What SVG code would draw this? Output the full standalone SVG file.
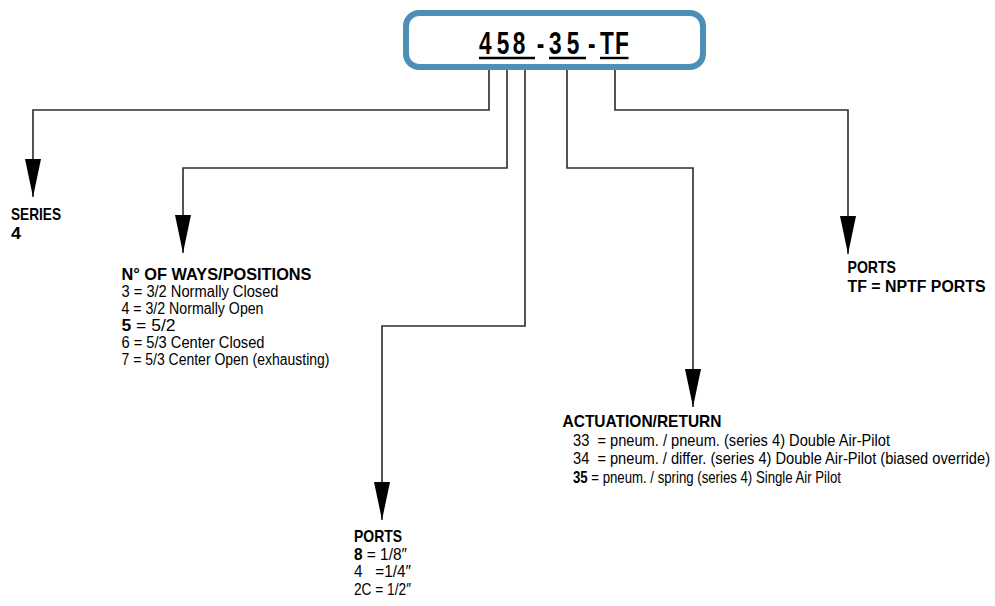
<svg xmlns="http://www.w3.org/2000/svg" width="995" height="606" viewBox="0 0 995 606">
<style>
.t{font-family:"Liberation Sans",Arial,sans-serif;fill:#000;}
.h{font-weight:bold;font-size:17px;}
.r{font-size:16px;}
.b{font-weight:bold;}
.c{fill:none;stroke:#2b2b2b;stroke-width:1.6;}
</style>
<defs>
<marker id="ah" viewBox="0 0 38 16" refX="38" refY="8" markerWidth="38" markerHeight="16" markerUnits="userSpaceOnUse" orient="auto">
<path d="M0,0 L38,8 L0,16 z" fill="#000"/>
</marker>
</defs>
<g id="code">
<rect x="406" y="13" width="297" height="54" rx="13" ry="13" fill="#fff" stroke="#4e8fb5" stroke-width="6"/>
<text transform="scale(0.72,1)" x="665.3 689.9 712.1 745.4 762.5 787.1 816.7 833.3 854.2" y="54.3" font-family="Liberation Sans, Arial, sans-serif" font-weight="bold" font-size="31.5">458-35-TF</text>
<g stroke="#000" stroke-width="2.4">
<line x1="479" y1="58" x2="535" y2="58"/>
<line x1="549" y1="58" x2="586" y2="58"/>
<line x1="600" y1="58" x2="628.5" y2="58"/>
</g>
</g>
<g id="connectors">
<path class="c" d="M489,70 V110 H33 V197" marker-end="url(#ah)"/>
<path class="c" d="M507,70 V168 H183 V253" marker-end="url(#ah)"/>
<path class="c" d="M525,70 V326 H382 V520" marker-end="url(#ah)"/>
<path class="c" d="M567,70 V168 H693 V407" marker-end="url(#ah)"/>
<path class="c" d="M615,70 V110 H848 V254" marker-end="url(#ah)"/>
</g>
<g id="series">
<text class="t h" x="11" y="220" textLength="50" lengthAdjust="spacingAndGlyphs">SERIES</text>
<text class="t h" x="11" y="239" textLength="10" lengthAdjust="spacingAndGlyphs">4</text>
</g>
<g id="ways">
<text class="t h" x="121.5" y="280" textLength="190" lengthAdjust="spacingAndGlyphs">N° OF WAYS/POSITIONS</text>
<text class="t r" x="121.5" y="297" textLength="157" lengthAdjust="spacingAndGlyphs">3 = 3/2 Normally Closed</text>
<text class="t r" x="121.5" y="314" textLength="142" lengthAdjust="spacingAndGlyphs">4 = 3/2 Normally Open</text>
<text class="t r" x="121.5" y="331" textLength="54" lengthAdjust="spacingAndGlyphs"><tspan class="b">5</tspan> = 5/2</text>
<text class="t r" x="121.5" y="348" textLength="143" lengthAdjust="spacingAndGlyphs">6 = 5/3 Center Closed</text>
<text class="t r" x="121.5" y="365" textLength="208" lengthAdjust="spacingAndGlyphs">7 = 5/3 Center Open (exhausting)</text>
</g>
<g id="ports-size">
<text class="t h" x="354" y="542" textLength="48" lengthAdjust="spacingAndGlyphs">PORTS</text>
<text class="t r" x="354" y="559.5" textLength="53" lengthAdjust="spacingAndGlyphs"><tspan class="b">8</tspan> = 1/8″</text>
<text class="t r" x="354" y="577" textLength="57" lengthAdjust="spacingAndGlyphs" xml:space="preserve">4   =1/4″</text>
<text class="t r" x="354" y="594.5" textLength="57" lengthAdjust="spacingAndGlyphs">2C = 1/2″</text>
</g>
<g id="actuation">
<text class="t h" x="562.5" y="427" textLength="159" lengthAdjust="spacingAndGlyphs">ACTUATION/RETURN</text>
<text class="t r" x="573" y="446" textLength="317" lengthAdjust="spacingAndGlyphs" xml:space="preserve">33  = pneum. / pneum. (series 4) Double Air-Pilot</text>
<text class="t r" transform="translate(573,464) scale(0.75,1)" x="0" y="0" textLength="556" lengthAdjust="spacingAndGlyphs" xml:space="preserve">34  = pneum. / differ. (series 4) Double Air-Pilot (biased override)</text>
<text class="t r" transform="translate(573,482.5) scale(0.8,1)" x="0" y="0" textLength="335" lengthAdjust="spacingAndGlyphs"><tspan class="b">35</tspan> = pneum. / spring (series 4) Single Air Pilot</text>
</g>
<g id="ports-type">
<text class="t h" x="847.5" y="273.3" textLength="48.5" lengthAdjust="spacingAndGlyphs">PORTS</text>
<text class="t h" transform="translate(847.5,291.7) scale(0.8,1)" x="0" y="0" textLength="172.5" lengthAdjust="spacingAndGlyphs">TF = NPTF PORTS</text>
</g>
</svg>
